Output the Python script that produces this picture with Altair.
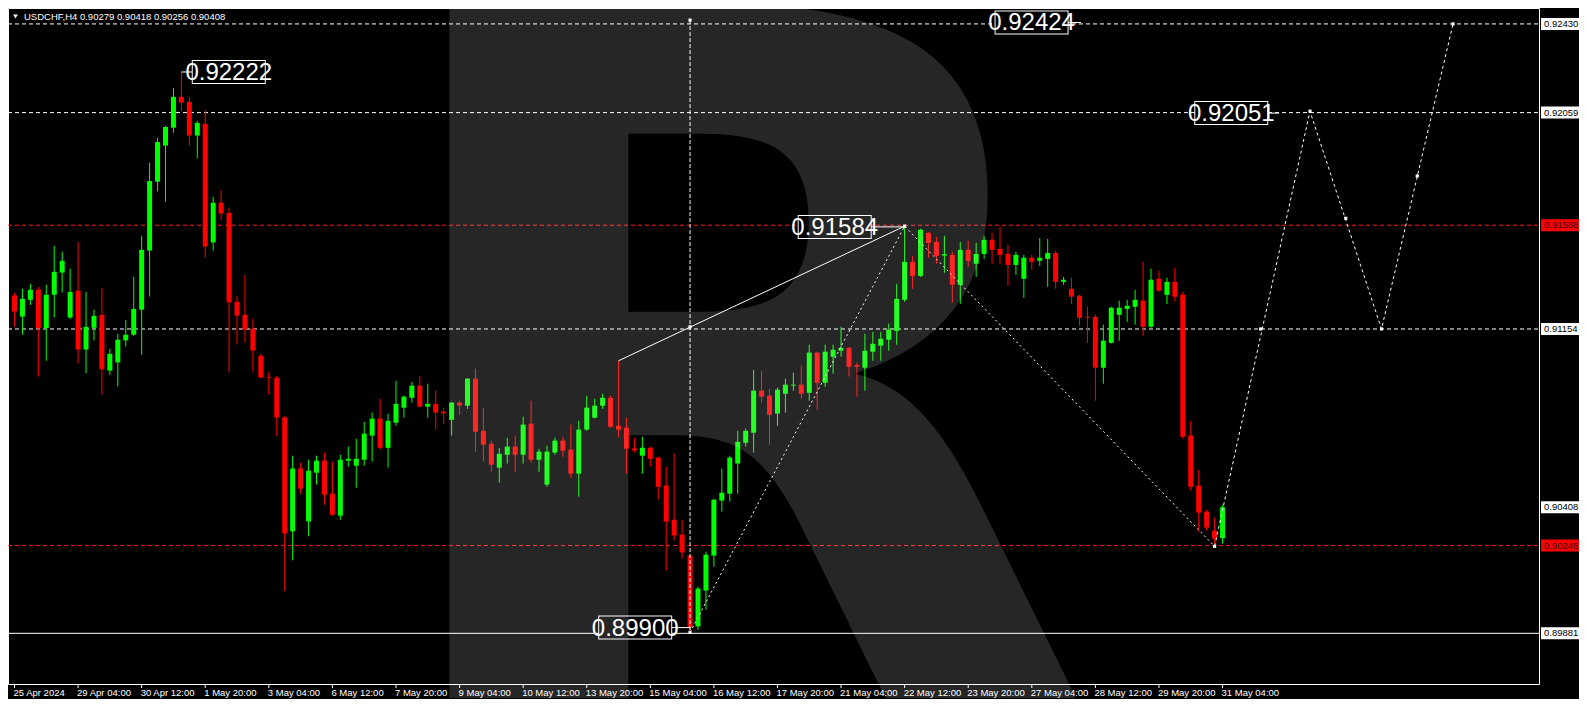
import altair as alt
import pandas as pd

# ---------------- data (USDCHF H4) ----------------
opens = [0.91294, 0.91206, 0.91276, 0.91318, 0.91158, 0.91297, 0.91390, 0.91202, 0.91314, 0.91068,
         0.91159, 0.91213, 0.90980, 0.91014, 0.91106, 0.91130, 0.91235, 0.91482, 0.91770, 0.91921,
         0.91996, 0.92125, 0.92104, 0.91963, 0.92012, 0.91516, 0.91682, 0.91640, 0.91268, 0.91213,
         0.91155, 0.91042, 0.90953, 0.90950, 0.90784, 0.90308, 0.90570, 0.90349, 0.90553, 0.90603,
         0.90465, 0.90373, 0.90603, 0.90582, 0.90607, 0.90708, 0.90779, 0.90657, 0.90762, 0.90825,
         0.90866, 0.90917, 0.90829, 0.90841, 0.90808, 0.90774, 0.90846, 0.90833, 0.90946, 0.90728,
         0.90674, 0.90574, 0.90628, 0.90662, 0.90628, 0.90758, 0.90607, 0.90503, 0.90637, 0.90687,
         0.90649, 0.90549, 0.90733, 0.90783, 0.90833, 0.90866, 0.90749, 0.90741, 0.90654, 0.90624,
         0.90657, 0.90616, 0.90499, 0.90356, 0.90294, 0.90206, 0.89910, 0.90060, 0.90206, 0.90436,
         0.90465, 0.90591, 0.90678, 0.90720, 0.90896, 0.90875, 0.90800, 0.90883, 0.90917, 0.90921,
         0.90887, 0.91055, 0.90929, 0.91038, 0.91063, 0.91075, 0.91003, 0.90992, 0.91059, 0.91084,
         0.91109, 0.91146, 0.91276, 0.91435, 0.91376, 0.91556, 0.91518, 0.91461, 0.91464, 0.91339,
         0.91485, 0.91427, 0.91468, 0.91527, 0.91489, 0.91468, 0.91422, 0.91364, 0.91452, 0.91439,
         0.91447, 0.91472, 0.91351, 0.91322, 0.91293, 0.91205, 0.91205, 0.90992, 0.91096, 0.91213,
         0.91238, 0.91247, 0.91272, 0.91163, 0.91364, 0.91297, 0.91351, 0.91297, 0.90708, 0.90499,
         0.90390, 0.90310, 0.90279]
highs = [0.91304, 0.91322, 0.91343, 0.91330, 0.91339, 0.91502, 0.91477, 0.91406, 0.91518, 0.91309,
         0.91234, 0.91326, 0.91071, 0.91134, 0.91192, 0.91372, 0.91544, 0.91849, 0.91953, 0.92003,
         0.92162, 0.92228, 0.92125, 0.92024, 0.92070, 0.91707, 0.91736, 0.91661, 0.91293, 0.91380,
         0.91197, 0.91050, 0.90975, 0.90958, 0.90791, 0.90624, 0.90595, 0.90607, 0.90624, 0.90637,
         0.90599, 0.90628, 0.90662, 0.90695, 0.90766, 0.90804, 0.90862, 0.90800, 0.90937, 0.90875,
         0.90933, 0.90958, 0.90925, 0.90896, 0.90825, 0.90849, 0.90854, 0.90949, 0.90988, 0.90825,
         0.90687, 0.90657, 0.90699, 0.90708, 0.90787, 0.90854, 0.90653, 0.90666, 0.90699, 0.90703,
         0.90754, 0.90770, 0.90875, 0.90862, 0.90883, 0.90875, 0.91021, 0.90783, 0.90699, 0.90703,
         0.90662, 0.90620, 0.90578, 0.90632, 0.90356, 0.90210, 0.90076, 0.90223, 0.90444, 0.90570,
         0.90624, 0.90728, 0.90737, 0.90983, 0.90979, 0.90904, 0.90908, 0.90946, 0.90971, 0.91000,
         0.91088, 0.91058, 0.91088, 0.91088, 0.91163, 0.91078, 0.91013, 0.91134, 0.91142, 0.91142,
         0.91176, 0.91343, 0.91584, 0.91460, 0.91573, 0.91559, 0.91539, 0.91544, 0.91477, 0.91518,
         0.91523, 0.91514, 0.91544, 0.91556, 0.91581, 0.91506, 0.91477, 0.91464, 0.91464, 0.91535,
         0.91531, 0.91481, 0.91372, 0.91368, 0.91297, 0.91247, 0.91213, 0.91172, 0.91247, 0.91272,
         0.91276, 0.91318, 0.91435, 0.91406, 0.91397, 0.91368, 0.91410, 0.91309, 0.90770, 0.90565,
         0.90398, 0.90365, 0.90418]
lows = [0.91164, 0.91130, 0.91255, 0.90955, 0.91021, 0.91202, 0.91307, 0.91195, 0.91010, 0.90968,
        0.91106, 0.90880, 0.90962, 0.90914, 0.91081, 0.91125, 0.91046, 0.91290, 0.91729, 0.91687,
        0.91975, 0.92067, 0.91921, 0.91867, 0.91453, 0.91482, 0.91610, 0.90972, 0.91089, 0.91097,
        0.90976, 0.90948, 0.90879, 0.90705, 0.90057, 0.90186, 0.90465, 0.90287, 0.90503, 0.90419,
        0.90373, 0.90356, 0.90578, 0.90490, 0.90582, 0.90599, 0.90649, 0.90574, 0.90749, 0.90783,
        0.90846, 0.90826, 0.90783, 0.90733, 0.90758, 0.90708, 0.90795, 0.90820, 0.90641, 0.90599,
        0.90557, 0.90511, 0.90591, 0.90557, 0.90591, 0.90595, 0.90557, 0.90494, 0.90628, 0.90620,
        0.90532, 0.90453, 0.90728, 0.90780, 0.90820, 0.90741, 0.90703, 0.90549, 0.90637, 0.90549,
        0.90578, 0.90440, 0.90143, 0.90269, 0.90193, 0.89885, 0.89895, 0.89980, 0.90160, 0.90390,
        0.90432, 0.90465, 0.90662, 0.90637, 0.90846, 0.90670, 0.90749, 0.90804, 0.90896, 0.90862,
        0.90854, 0.90816, 0.90912, 0.90967, 0.91038, 0.90955, 0.90871, 0.90896, 0.91021, 0.91021,
        0.91063, 0.91088, 0.91268, 0.91322, 0.91372, 0.91452, 0.91427, 0.91389, 0.91264, 0.91259,
        0.91414, 0.91372, 0.91447, 0.91427, 0.91427, 0.91335, 0.91380, 0.91284, 0.91401, 0.91418,
        0.91330, 0.91322, 0.91339, 0.91259, 0.91167, 0.91096, 0.90854, 0.90925, 0.91093, 0.91105,
        0.91184, 0.91172, 0.91125, 0.91159, 0.91310, 0.91259, 0.91268, 0.90695, 0.90478, 0.90306,
        0.90310, 0.90245, 0.90256]
closes = [0.91227, 0.91280, 0.91318, 0.91158, 0.91297, 0.91393, 0.91439, 0.91309, 0.91068, 0.91163,
          0.91209, 0.90985, 0.91050, 0.91109, 0.91130, 0.91238, 0.91485, 0.91773, 0.91936, 0.91999,
          0.92125, 0.92101, 0.91963, 0.92016, 0.91499, 0.91682, 0.91637, 0.91265, 0.91210, 0.91152,
          0.91064, 0.90951, 0.90950, 0.90784, 0.90299, 0.90570, 0.90486, 0.90561, 0.90603, 0.90461,
          0.90377, 0.90607, 0.90611, 0.90611, 0.90716, 0.90779, 0.90657, 0.90770, 0.90841, 0.90871,
          0.90917, 0.90829, 0.90841, 0.90804, 0.90801, 0.90846, 0.90834, 0.90946, 0.90724, 0.90670,
          0.90586, 0.90632, 0.90662, 0.90628, 0.90754, 0.90607, 0.90641, 0.90641, 0.90687, 0.90645,
          0.90549, 0.90733, 0.90825, 0.90833, 0.90866, 0.90745, 0.90733, 0.90653, 0.90646, 0.90657,
          0.90611, 0.90494, 0.90348, 0.90290, 0.90219, 0.89905, 0.90068, 0.90210, 0.90440, 0.90469,
          0.90616, 0.90682, 0.90728, 0.90896, 0.90871, 0.90795, 0.90900, 0.90921, 0.90921, 0.90883,
          0.91055, 0.90929, 0.91059, 0.91067, 0.91075, 0.90996, 0.90996, 0.91063, 0.91092, 0.91113,
          0.91151, 0.91280, 0.91435, 0.91376, 0.91569, 0.91514, 0.91460, 0.91467, 0.91339, 0.91485,
          0.91439, 0.91468, 0.91527, 0.91485, 0.91464, 0.91422, 0.91464, 0.91452, 0.91435, 0.91452,
          0.91472, 0.91351, 0.91360, 0.91289, 0.91201, 0.91201, 0.90992, 0.91105, 0.91243, 0.91243,
          0.91251, 0.91276, 0.91163, 0.91360, 0.91314, 0.91351, 0.91289, 0.90703, 0.90494, 0.90386,
          0.90323, 0.90277, 0.90408]

x_tick_labels = ["25 Apr 2024", "29 Apr 04:00", "30 Apr 12:00", "1 May 20:00", "3 May 04:00",
                 "6 May 12:00", "7 May 20:00", "9 May 04:00", "10 May 12:00", "13 May 20:00",
                 "15 May 04:00", "16 May 12:00", "17 May 20:00", "21 May 04:00", "22 May 12:00",
                 "23 May 20:00", "27 May 04:00", "28 May 12:00", "29 May 20:00", "31 May 04:00"]
x_tick_bars = [8 * k for k in range(len(x_tick_labels))]
y_ticks = [0.92460, 0.92320, 0.92180, 0.92040, 0.91900, 0.91760, 0.91620, 0.91480, 0.91340,
           0.91200, 0.91060, 0.90920, 0.90780, 0.90640, 0.90500, 0.90360, 0.90220, 0.90085,
           0.89945, 0.89810, 0.89670]

# horizontal levels
white_dashed_levels = [0.92430, 0.92059, 0.91154]
red_dashed_levels = [0.91588, 0.90248]
white_solid_levels = [0.89881]
# price boxes on the axis
box_prices = [0.92430, 0.92059, 0.91588, 0.91154, 0.90408, 0.90248, 0.89881]
box_fills = ["#ffffff", "#ffffff", "#ff0000", "#ffffff", "#ffffff", "#ff0000", "#ffffff"]
box_inks = ["#000000", "#000000", "#400000", "#000000", "#000000", "#400000", "#000000"]

# analysis lines (bar index, price)
zigzag_bars = [85, 112, 151]
zigzag_prices = [0.89885, 0.91584, 0.90245]
forecast_bars = [151, 163, 172, 181]
forecast_prices = [0.90245, 0.92065, 0.91154, 0.92430]
trend_bars = [76, 112]
trend_prices = [0.91021, 0.91584]
vline_bar = 85
vline_top, vline_bottom = 0.92446, 0.89885
marker_bars = [85, 85, 85, 112, 151, 156.8, 163, 167.5, 172, 176.5, 181]
marker_prices = [0.92446, 0.91163, 0.89885, 0.91584, 0.90245, 0.91154, 0.92065, 0.91617, 0.91154, 0.91794, 0.92430]

# big value labels
note_texts = ["0.92222", "0.92424", "0.92051", "0.91584", "0.89900"]
note_bars = [26.96, 127.97, 153.1, 103.2, 78.1]
note_prices = [0.92229, 0.92436, 0.92057, 0.91581, 0.89905]
note_link_bars = [21, 134.2, 159.1, 112, 85]

# ---------------- chart ----------------
W, H = 1531, 676
FONT = "Liberation Sans"
xs = alt.Scale(domain=[-0.1875, W / 8 - 0.1875], nice=False, zero=False)
ys = alt.Scale(domain=[0.89669, 0.924966], nice=False, zero=False)

n = len(opens)
candles = pd.DataFrame({"bar": list(range(n)), "open": opens, "high": highs,
                        "low": lows, "close": closes})
candles["dir"] = ["up" if c >= o else "down" for o, c in zip(opens, closes)]
col = alt.Color("dir:N", scale=alt.Scale(domain=["up", "down"], range=["#00ff00", "#ff0000"]), legend=None)

y_axis = alt.Axis(orient="right", values=y_ticks, format=".5f", title=None, tickSize=3,
                  tickColor="#ffffff", labelColor="#ffffff", labelFont=FONT, labelFontSize=9.5,
                  labelPadding=2, labelFlush=False, labelOverlap=False, domain=False, grid=False)


def X(f):
    return alt.X(f, scale=xs, axis=None)


def Y(f):
    return alt.Y(f, scale=ys, axis=None)


wicks = alt.Chart(candles).mark_rule(strokeWidth=1).encode(
    x=X("bar:Q"), y=alt.Y("low:Q", scale=ys, axis=y_axis), y2="high:Q", color=col)
bodies = alt.Chart(candles).mark_bar(size=5).encode(x=X("bar:Q"), y=Y("open:Q"), y2="close:Q", color=col)

# time axis drawn from the tick table
xt = pd.DataFrame({"b": x_tick_bars, "lab": x_tick_labels})
x_ticks = alt.Chart(xt).mark_rule(color="#ffffff", strokeWidth=1).encode(
    x=X("b:Q"), y=alt.value(H), y2=alt.value(H + 4))
x_labels = alt.Chart(xt).mark_text(color="#ffffff", font=FONT, fontSize=9.5, align="left",
                                   baseline="top", dx=-1).encode(
    x=X("b:Q"), y=alt.value(H + 4), text="lab:N")


def levels(vals, color, dash):
    kw = {"strokeDash": dash} if dash else {}
    return alt.Chart(pd.DataFrame({"p": vals})).mark_rule(color=color, strokeWidth=1, **kw).encode(
        x=alt.value(0), x2=alt.value(W), y=Y("p:Q"))


lv1 = levels(white_dashed_levels, "#ffffff", [4, 3])
lv2 = levels(red_dashed_levels, "#ff1a1a", [4, 3])
lv3 = levels(white_solid_levels, "#ffffff", None)

vline = alt.Chart(pd.DataFrame({"b": [vline_bar], "t": [vline_top], "u": [vline_bottom]})).mark_rule(
    color="#ffffff", strokeDash=[4, 2]).encode(x=X("b:Q"), y=Y("t:Q"), y2="u:Q")

zig = alt.Chart(pd.DataFrame({"b": zigzag_bars, "p": zigzag_prices})).mark_line(
    color="#ffffff", strokeWidth=1, strokeDash=[2, 3]).encode(x=X("b:Q"), y=Y("p:Q"))
fc = alt.Chart(pd.DataFrame({"b": forecast_bars, "p": forecast_prices})).mark_line(
    color="#ffffff", strokeWidth=1, strokeDash=[3, 3]).encode(x=X("b:Q"), y=Y("p:Q"))
trend = alt.Chart(pd.DataFrame({"b": trend_bars, "p": trend_prices})).mark_line(
    color="#ffffff", strokeWidth=1).encode(x=X("b:Q"), y=Y("p:Q"))
marks = alt.Chart(pd.DataFrame({"b": marker_bars, "p": marker_prices})).mark_point(
    shape="square", filled=True, size=10, color="#ffffff", opacity=1).encode(x=X("b:Q"), y=Y("p:Q"))

notes = pd.DataFrame({"t": note_texts, "b": note_bars, "p": note_prices, "lb": note_link_bars})
links = alt.Chart(notes).mark_rule(color="#ffffff", strokeWidth=1).encode(x=X("lb:Q"), x2="b:Q", y=Y("p:Q"))
box_out = alt.Chart(notes).mark_rule(color="#ffffff", strokeWidth=24, xOffset=-37, x2Offset=37).encode(
    x=X("b:Q"), x2="b:Q", y=Y("p:Q"))
box_in = alt.Chart(notes).mark_rule(color="#000000", strokeWidth=22, xOffset=-36, x2Offset=36).encode(
    x=X("b:Q"), x2="b:Q", y=Y("p:Q"))
note_txt = alt.Chart(notes).mark_text(color="#ffffff", fontSize=24, font="Liberation Sans Narrow, " + FONT,
                                      align="center", baseline="middle", dy=1).encode(
    x=X("b:Q"), y=Y("p:Q"), text="t:N")

boxes = pd.DataFrame({"p": box_prices, "c": box_fills, "k": box_inks})
ax_box = alt.Chart(boxes).mark_rule(strokeWidth=12).encode(
    x=alt.value(W + 2), x2=alt.value(W + 40), y=Y("p:Q"), color=alt.Color("c:N", scale=None))
ax_txt = alt.Chart(boxes).mark_text(font=FONT, fontSize=9.5, align="left", baseline="middle").encode(
    x=alt.value(W + 5), y=Y("p:Q"), text=alt.Text("p:Q", format=".5f"),
    color=alt.Color("k:N", scale=None))

header = (f"USDCHF,H4  {opens[-1]:.5f} {highs[-1]:.5f} {lows[-1]:.5f} {closes[-1]:.5f}")
head_tri = alt.Chart(pd.DataFrame({"a": [0]})).mark_point(
    shape="triangle-down", filled=True, size=22, color="#ffffff", opacity=1).encode(
    x=alt.value(7.5), y=alt.value(8.5))
head_txt = alt.Chart(pd.DataFrame({"t": [header]})).mark_text(
    color="#ffffff", font=FONT, fontSize=9.5, align="left", baseline="middle").encode(
    x=alt.value(16), y=alt.value(8.7), text="t:N")

logo = alt.Chart(pd.DataFrame({"t": ["R"]})).mark_text(
    color="#ffffff", opacity=0.15, font="DejaVu Sans", fontWeight="bold", fontSize=952,
    align="left", baseline="alphabetic").encode(x=alt.value(354), y=alt.value(690), text="t:N")

chart = alt.layer(
    lv1, lv2, lv3, wicks, bodies, vline, zig, fc, trend, links, box_out, box_in, note_txt,
    marks, ax_box, ax_txt, x_ticks, x_labels, head_tri, head_txt, logo
).properties(
    width=W, height=H, autosize="none",
    padding={"left": 0, "top": 0, "right": 40, "bottom": 15},
    background="#000000",
).configure_view(stroke="#ffffff", strokeWidth=1)

chart.save("out.html", embed_options={"renderer": "svg", "actions": False})
